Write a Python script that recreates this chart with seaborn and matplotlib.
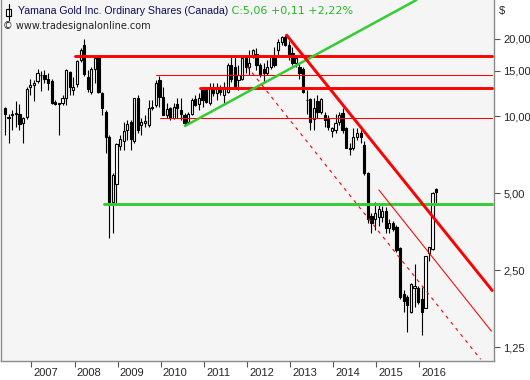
import numpy as np
import pandas as pd
import matplotlib
matplotlib.use("Agg")
import matplotlib.pyplot as plt
import matplotlib.transforms as mtransforms
from matplotlib.patches import Rectangle
from matplotlib.lines import Line2D
import seaborn as sns

# ---------------- data (monthly candles) ----------------
start_month = "2006-05"
opens = [10.75, 9.8, 10.1, 10.2, 10.2, 9.4, 9.9, 12.95, 13.2, 13.7,
         14.4, 14.45, 13.9, 13.65, 11.35, 11.15, 11.25, 11.8, 14.85, 12.6,
         13.3, 16.55, 18.95, 14.15, 12.4, 15.3, 17.1, 12.3, 10.35, 8.3,
         4.6, 5.42, 7.65, 7.95, 8.8, 9.5, 8.0, 11.8, 9.2, 9.4,
         9.2, 10.75, 11.05, 13.8, 11.85, 10.1, 10.75, 9.8, 11.15, 10.6,
         10.05, 9.5, 10.2, 11.65, 11.15, 12.6, 12.6, 11.25, 12.95, 12.3,
         12.8, 12.1, 12.4, 15.8, 15.5, 13.8, 14.0, 17.0, 15.5, 17.0,
         17.5, 15.8, 15.2, 14.7, 15.5, 17.0, 18.1, 19.4, 20.3, 19.0,
         17.6, 16.1, 15.5, 15.3, 11.6, 11.7, 9.7, 11.45, 10.35, 10.1,
         9.8, 8.7, 8.8, 9.5, 10.3, 9.0, 7.5, 7.5, 8.25, 8.6,
         7.7, 5.98, 4.07, 3.95, 4.03, 4.03, 4.25, 3.65, 3.82, 3.68,
         3.05, 2.02, 1.96, 1.72, 2.13, 2.13, 1.92, 1.78, 2.91, 3.02,
         5.18]
highs = [10.85, 10.2, 10.55, 11.4, 11.1, 9.9, 13.0, 13.9, 13.8, 15.3,
         15.0, 15.1, 14.7, 13.9, 11.55, 11.25, 12.1, 15.3, 15.0, 14.2,
         16.5, 18.4, 20.0, 15.1, 15.5, 17.0, 17.3, 12.4, 10.55, 8.4,
         5.98, 7.85, 8.4, 9.45, 9.65, 9.65, 11.8, 12.1, 9.8, 10.05,
         11.55, 11.55, 13.8, 14.3, 12.95, 11.25, 10.85, 11.25, 11.8, 11.8,
         10.3, 10.35, 11.8, 12.1, 12.3, 12.95, 12.95, 13.45, 13.45, 13.45,
         13.2, 13.6, 16.1, 17.3, 17.3, 15.8, 17.0, 17.3, 18.1, 18.3,
         18.5, 16.1, 16.1, 16.55, 17.0, 18.6, 20.0, 20.55, 20.8, 19.6,
         18.6, 17.3, 16.1, 15.5, 12.6, 11.8, 11.8, 12.1, 11.8, 10.35,
         10.05, 9.05, 10.2, 10.35, 10.75, 9.05, 7.85, 9.0, 9.0, 8.8,
         8.0, 6.05, 4.18, 4.61, 4.48, 4.45, 4.4, 3.95, 3.9, 3.75,
         3.08, 2.09, 2.0, 2.22, 2.63, 2.17, 2.15, 2.85, 3.08, 5.06,
         5.22]
lows = [8.4, 7.85, 8.8, 9.05, 8.8, 7.85, 9.7, 12.1, 11.4, 13.45,
        12.5, 13.45, 12.6, 11.15, 11.05, 8.4, 11.05, 11.05, 12.1, 12.1,
        12.95, 16.2, 14.3, 12.4, 12.2, 13.45, 12.3, 10.05, 7.2, 3.34,
        3.49, 4.48, 7.35, 7.35, 8.05, 7.35, 7.85, 8.6, 8.4, 9.05,
        9.05, 10.55, 10.85, 10.85, 10.05, 9.8, 9.65, 9.75, 9.8, 9.65,
        9.2, 9.5, 10.05, 10.95, 10.55, 10.85, 11.25, 11.05, 12.0, 11.55,
        12.1, 11.25, 12.3, 13.6, 12.8, 12.6, 13.8, 14.7, 14.45, 16.9,
        15.1, 14.2, 13.45, 14.45, 15.2, 15.5, 17.3, 18.95, 18.8, 16.55,
        15.8, 15.5, 14.0, 12.3, 10.2, 8.8, 8.8, 9.8, 10.2, 9.05,
        8.8, 8.25, 8.6, 9.2, 8.6, 7.5, 7.04, 7.35, 8.05, 7.85,
        5.88, 3.82, 3.49, 3.58, 3.7, 3.85, 3.5, 3.5, 3.55, 2.94,
        1.92, 1.71, 1.43, 1.70, 1.8, 1.85, 1.39, 1.78, 2.72, 3.0,
        4.5]
closes = [10.2, 9.9, 10.2, 10.3, 9.3, 9.8, 12.8, 13.2, 13.45, 14.7,
          14.5, 14.0, 13.45, 11.25, 11.15, 11.2, 11.8, 15.1, 12.95, 12.95,
          16.4, 18.1, 14.6, 12.8, 15.3, 16.8, 12.4, 10.75, 8.25, 4.6,
          5.88, 7.8, 8.15, 8.7, 9.3, 8.1, 11.8, 8.8, 9.5, 9.6,
          10.75, 10.85, 13.45, 11.85, 10.1, 10.65, 9.8, 10.85, 10.75, 10.2,
          9.4, 10.2, 11.55, 11.05, 11.75, 11.55, 11.35, 12.95, 12.3, 12.95,
          12.4, 12.95, 15.8, 14.0, 13.0, 14.45, 16.9, 15.5, 16.1, 18.1,
          15.8, 14.6, 14.7, 15.5, 17.0, 15.8, 19.4, 20.3, 19.0, 17.3,
          16.1, 16.9, 14.7, 12.4, 11.55, 9.5, 10.75, 10.35, 11.65, 9.65,
          9.05, 9.0, 9.4, 10.05, 8.8, 7.5, 7.45, 8.25, 8.6, 8.3,
          5.98, 3.95, 3.82, 4.18, 4.33, 4.25, 3.65, 3.82, 3.62, 3.0,
          1.96, 1.89, 1.82, 2.2, 2.17, 1.87, 1.72, 2.83, 3.08, 5.0,
          5.06]

year_ticks = [2007, 2008, 2009, 2010, 2011, 2012, 2013, 2014, 2015, 2016]
price_ticks = [1.25, 2.5, 5.0, 10.0, 15.0, 20.0]
price_labels = ["1,25", "2,50", "5,00", "10,00", "15,00", "20,00"]

# drawn analysis lines: (time, price) endpoints
h_levels = [17.2, 14.45, 12.9, 9.8]
h_starts = [2008.02, 2009.88, 2010.92, 2009.97]
h_thick = [True, False, True, False]
green_level = 4.54
green_start = 2008.69
line_end = 2017.69
green_trend_t = [2010.56, 2015.93]
green_trend_p = [9.14, 28.4]
red_trend_t = [2012.92, 2017.69]
red_trend_p = [20.7, 2.08]
red_thin_t = [2015.06, 2017.67]
red_thin_p = [5.14, 1.443]
red_dash_t = [2012.005, 2017.42]
red_dash_p = [15.6, 1.12]

title_main = "Yamana Gold Inc. Ordinary Shares (Canada)"
title_quote = " C:5,06 +0,11 +2,22%"
source_text = "\u00a9 www.tradesignalonline.com"

# ---------------- figure ----------------
sns.set_style("white")
plt.rcParams["font.family"] = ["Liberation Sans", "DejaVu Sans"]

W, H = 530, 380
fig = plt.figure(figsize=(W / 100, H / 100), dpi=100)
fig.patch.set_facecolor("white")
ax = fig.add_axes([0.5 / W, 19 / H, 493 / W, 361 / H])
ax.set_facecolor("#f5f5f5")
ax.set_yscale("log")

dates = pd.date_range(start_month, periods=len(opens), freq="MS") + pd.Timedelta(days=20)
t = np.asarray(dates.year + (dates.dayofyear - 1) / 365.25, dtype=float)
o = np.array(opens); c = np.array(closes); hi = np.array(highs); lo = np.array(lows)
up = c >= o

ax.vlines(t, lo, hi, color="black", lw=0.8, zorder=2)
body_bot = np.minimum(o, c)
body_h = np.maximum(np.abs(c - o), 0.004 * body_bot)
ax.bar(t, body_h, bottom=body_bot, width=0.05,
       color=np.where(up, "white", "black"), edgecolor="black", linewidth=0.8, zorder=3)

red = "#ff0000"
green = "#33cc33"
for lev, st, thick in zip(h_levels, h_starts, h_thick):
    df = pd.DataFrame({"t": [st, line_end], "p": [lev, lev]})
    sns.lineplot(data=df, x="t", y="p", ax=ax, color=red, lw=2.1 if thick else 0.75, zorder=5)
df = pd.DataFrame({"t": [green_start, line_end], "p": [green_level, green_level]})
sns.lineplot(data=df, x="t", y="p", ax=ax, color=green, lw=2.1, zorder=5)
df = pd.DataFrame({"t": green_trend_t, "p": green_trend_p})
sns.lineplot(data=df, x="t", y="p", ax=ax, color=green, lw=1.8, zorder=5)
df = pd.DataFrame({"t": red_trend_t, "p": red_trend_p})
sns.lineplot(data=df, x="t", y="p", ax=ax, color=red, lw=2.1, zorder=5)
df = pd.DataFrame({"t": red_thin_t, "p": red_thin_p})
sns.lineplot(data=df, x="t", y="p", ax=ax, color=red, lw=0.75, zorder=5)
df = pd.DataFrame({"t": red_dash_t, "p": red_dash_p})
sns.lineplot(data=df, x="t", y="p", ax=ax, color=red, lw=0.8, zorder=5)
ax.lines[-1].set_linestyle((0, (3, 4)))

ax.set_xlim(2006.281, 2017.719)
ax.set_ylim(1.103, 28.4)
ax.set_xlabel("")
ax.set_ylabel("")

ax.yaxis.tick_right()
ax.set_yticks(price_ticks)
ax.set_yticklabels(price_labels)
ax.yaxis.set_minor_locator(matplotlib.ticker.NullLocator())
ax.set_xticks(year_ticks)
ax.set_xticklabels([str(y) for y in year_ticks])
ax.tick_params(axis="y", which="major", direction="out", length=4, width=0.8,
               color="#555555", labelsize=8, pad=3, right=True, left=False)
ax.tick_params(axis="x", which="major", direction="out", length=4, width=0.8,
               color="#555555", labelsize=8, pad=1, bottom=True)
offset = mtransforms.ScaledTranslation(1.5 / 72, 0, fig.dpi_scale_trans)
for lab in ax.get_xticklabels():
    lab.set_horizontalalignment("left")
    lab.set_transform(lab.get_transform() + offset)

for sp in ax.spines.values():
    sp.set_color("#8a8a8a")
    sp.set_linewidth(1.0)
ax.spines["top"].set_visible(False)

# header
fig.text(499 / W, 1 - 11 / H, "$", fontsize=8, va="center", ha="left", color="#222222")
t1 = fig.text(18 / W, 1 - 14 / H, title_main, fontsize=7.6, color="#0b0b5c",
              va="baseline", ha="left")
fig.canvas.draw()
ax.annotate(title_quote, xy=(1, 0), xycoords=t1, va="bottom", ha="left",
            fontsize=8, color="#22bb22", annotation_clip=False, family="DejaVu Sans")
fig.text(3 / W, 1 - 29 / H, source_text, fontsize=7.0, color="#222222",
         va="baseline", ha="left", family="DejaVu Sans")
# small candle icon
fig.add_artist(Line2D([8.5 / W, 8.5 / W], [1 - 4 / H, 1 - 20 / H], color="black", lw=0.8,
                      transform=fig.transFigure))
fig.add_artist(Rectangle((6 / W, 1 - 16 / H), 5 / W, 7 / H, facecolor="white",
                         edgecolor="black", lw=0.8, transform=fig.transFigure))

fig.savefig("out.png", dpi=100)
